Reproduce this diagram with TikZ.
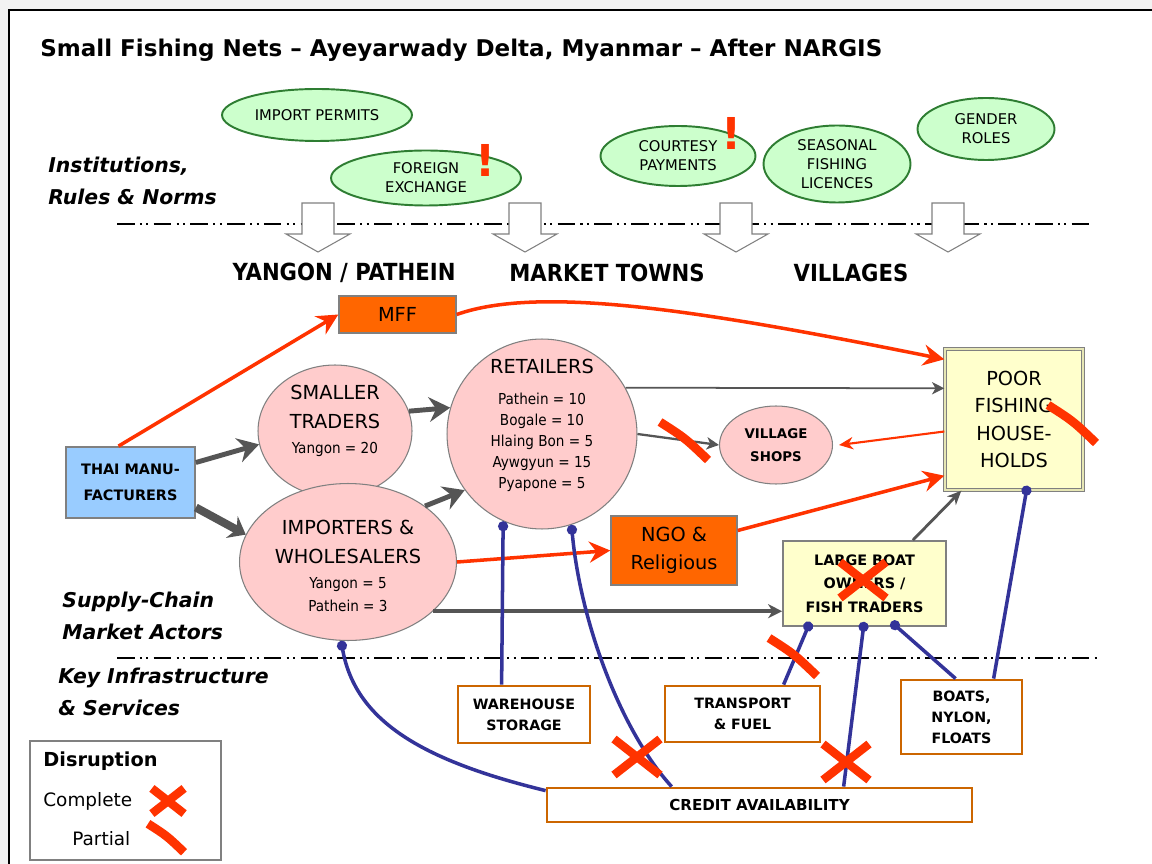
\documentclass[tikz,border=0pt]{standalone}
\usepackage{fontspec}
\setmainfont{DejaVu Sans}
\newfontfamily\condf{DejaVu Sans Condensed}
\usetikzlibrary{arrows.meta,positioning,calc,shapes.geometric}
\definecolor{instfill}{HTML}{CCFFCC}
\definecolor{instline}{HTML}{2E7D32}
\definecolor{actfill}{HTML}{FFCCCC}
\definecolor{orgfill}{HTML}{FF6600}
\definecolor{mfgfill}{HTML}{99CCFF}
\definecolor{hhfill}{HTML}{FFFFCC}
\definecolor{hhband}{HTML}{E6E6B4}
\definecolor{aidred}{HTML}{FF3300}
\definecolor{infraline}{HTML}{CC6600}
\definecolor{linkblue}{HTML}{333399}
\definecolor{flowgray}{HTML}{555555}
\definecolor{edgegray}{HTML}{808080}
\definecolor{pagegray}{HTML}{F2F2F2}
\tikzset{
  inst/.style={ellipse,draw=instline,fill=instfill,line width=1.1pt,inner sep=0pt,align=center,font=\fontsize{8.4}{10.8}\selectfont},
  actor/.style={ellipse,draw=edgegray,fill=actfill,line width=0.6pt,inner sep=0pt},
  acttl/.style={align=center,font=\fontsize{11}{16.5}\selectfont},
  actnum/.style={align=center,font=\condf\fontsize{8.6}{12}\selectfont},
  orgblk/.style={rectangle,draw=edgegray,fill=orgfill,line width=0.8pt,inner sep=0pt,align=center,font=\fontsize{11}{16}\selectfont},
  mfgblk/.style={rectangle,draw=edgegray,fill=mfgfill,line width=1pt,inner sep=0pt,align=center,font=\bfseries\fontsize{8.2}{14.8}\selectfont},
  hhblk/.style={rectangle,draw=edgegray,fill=hhfill,line width=1pt,inner sep=0pt,align=center},
  infblk/.style={rectangle,draw=infraline,fill=white,line width=1.6pt,inner sep=0pt,align=center,font=\bfseries\fontsize{8.1}{12}\selectfont},
  side/.style={anchor=west,align=left,inner sep=0pt,font=\bfseries\itshape\fontsize{11.6}{18}\selectfont},
  region/.style={font=\condf\bfseries\fontsize{13.4}{15}\selectfont},
  warn/.style={text=aidred,font=\bfseries\fontsize{25}{25}\selectfont,inner sep=0pt},
  sepline/.style={line width=1.1pt,dash pattern=on 10pt off 3pt on 1.2pt off 2.5pt on 1.2pt off 3pt},
  blkarr/.style={draw=edgegray,fill=white,line width=0.6pt},
  flow/.style={draw=flowgray,line width=2.8pt,-{Stealth[length=12pt,width=14pt,inset=4pt]}},
  thinflow/.style={draw=flowgray,line width=1pt,-{Stealth[length=7pt,width=7pt,inset=2pt]}},
  aid/.style={draw=aidred,line width=2pt,-{Stealth[length=12pt,width=12pt,inset=4pt]}},
  link/.style={draw=linkblue,line width=2pt,{Circle[length=5.7pt]}-},
  fullx/.pic={\draw[aidred,line width=4.8pt] (-23,-18) -- (23,18) (-23,18) -- (23,-18);},
  halfx/.pic={\draw[aidred,line width=5pt] (-24,-19) .. controls (1,-3) .. (24,19);}
}
\begin{document}
\begin{tikzpicture}[x=0.02cm,y=-0.02cm]
  \useasboundingbox (0,0) rectangle (1152,864);
  \fill[pagegray] (0,0) rectangle (1152,864);
  \fill[white] (9,10) rectangle (1152,864);
  \draw[line width=1.1pt] (9,864) -- (9,10) -- (1152,10);

  \node[anchor=west,inner sep=0pt,font=\bfseries\fontsize{13.1}{15}\selectfont] (ttl) at (40,50) {Small Fishing Nets – Ayeyarwady Delta, Myanmar – After NARGIS};

  \node[inst,minimum width=3.8cm,minimum height=1.04cm] (imprt) at (317,115) {IMPORT PERMITS};
  \node[inst,minimum width=3.8cm,minimum height=1.1cm] (forex) at (426,178) {FOREIGN\\EXCHANGE};
  \node[inst,minimum width=3.1cm,minimum height=1.2cm] (court) at (678,156) {COURTESY\\PAYMENTS};
  \node[inst,minimum width=2.94cm,minimum height=1.54cm] (lic) at (837,164) {SEASONAL\\FISHING\\LICENCES};
  \node[inst,minimum width=2.74cm,minimum height=1.24cm] (gend) at (986,129) {GENDER\\ROLES};
  \node[warn] (warn1) at (486,160) {!};
  \node[warn] (warn2) at (732,133) {!};

  \node[side] (instlbl) at (48,181) {Institutions,\\Rules \& Norms};
  \node[side] (actlbl) at (62,616) {Supply-Chain\\Market Actors};
  \node[side] (inflbl) at (58,692) {Key Infrastructure\\\& Services};

  \draw[sepline] (117,224) -- (1093,224);
  \draw[sepline] (117,658) -- (1097,658);
  \foreach \ax in {318,525,736,948}
    \draw[blkarr] (\ax-16,203) -- (\ax+16,203) -- (\ax+16,234) -- (\ax+32,234) -- (\ax,252) -- (\ax-32,234) -- (\ax-16,234) -- cycle;

  \node[region] (ygn) at (344,273) {YANGON / PATHEIN};
  \node[region] (mkt) at (607,273) {MARKET TOWNS};
  \node[region] (vlg) at (851,273) {VILLAGES};

  \node[mfgblk,minimum width=2.58cm,minimum height=1.42cm] (thai) at (130.5,482.5) {THAI MANU-\\FACTURERS};
  \node[orgblk,minimum width=2.34cm,minimum height=0.74cm] (mff) at (397.5,314.5) {MFF};
  \node[actor,minimum width=3.08cm,minimum height=2.64cm] (smt) at (335,431) {};
  \node[acttl] (smt-t) at (335,407) {SMALLER\\TRADERS};
  \node[actnum] (smt-n) at (335,449) {Yangon = 20};
  \node[actor,circle,minimum size=3.8cm] (ret) at (542,434) {};
  \node[acttl] (ret-t) at (542,366) {RETAILERS};
  \node[actnum] (ret-n) at (542,442) {Pathein = 10\\Bogale = 10\\Hlaing Bon = 5\\Aywgyun = 15\\Pyapone = 5};
  \node[actor,minimum width=4.34cm,minimum height=3.14cm] (imp) at (348,562) {};
  \node[acttl] (imp-t) at (348,542) {IMPORTERS \&\\WHOLESALERS};
  \node[actnum,font=\condf\fontsize{8.6}{13}\selectfont] (imp-n) at (348,595) {Yangon = 5\\Pathein = 3};
  \node[actor,minimum width=2.26cm,minimum height=1.56cm,align=center,font=\bfseries\fontsize{7.6}{13}\selectfont] (vil) at (776,445) {VILLAGE\\SHOPS};
  \node[orgblk,minimum width=2.52cm,minimum height=1.38cm] (ngo) at (674,550.5) {NGO \&\\Religious};
  \node[hhblk,double=hhband,double distance=1.2pt,line width=0.8pt,minimum width=2.76cm,minimum height=2.82cm,font=\fontsize{11}{15.7}\selectfont] (poor) at (1014,419.5) {POOR\\FISHING\\HOUSE-\\HOLDS};
  \node[hhblk,minimum width=3.26cm,minimum height=1.7cm,font=\bfseries\fontsize{8.2}{13.4}\selectfont] (lbo) at (864.5,583.5) {LARGE BOAT\\OWNERS /\\FISH TRADERS};

  \node[infblk,minimum width=2.64cm,minimum height=1.14cm] (wh) at (524,714.5) {WAREHOUSE\\STORAGE};
  \node[infblk,minimum width=3.1cm,minimum height=1.12cm] (tr) at (742.5,714) {TRANSPORT\\\& FUEL};
  \node[infblk,minimum width=2.42cm,minimum height=1.48cm] (bo) at (961.5,717) {BOATS,\\NYLON,\\FLOATS};
  \node[infblk,minimum width=8.5cm,minimum height=0.68cm,font=\bfseries\fontsize{8.6}{12}\selectfont] (cred) at (759.5,805) {CREDIT AVAILABILITY};

  \draw[aid] ($(thai.north)+(-12,0)$) -- (mff.west);
  \draw[aid] (mff.east) .. controls (540,285) and (700,310) .. ($(poor.north west)+(0,11)$);
  \draw[aid] (imp.east) -- (ngo.west);
  \draw[aid] ($(ngo.east)+(0,-20)$) -- ($(poor.south west)+(0,-15)$);
  \draw[aid,line width=1.2pt,-{Stealth[length=8pt,width=7pt,inset=2.5pt]}] ($(poor.west)+(0,12)$) -- ($(vil.east)+(6,0)$);

  \draw[flow] ($(thai.east)+(0,-20)$) -- (smt.190);
  \draw[flow,line width=4.6pt,-{Stealth[length=9pt,width=14pt,inset=3pt]}] ($(thai.east)+(0,25)$) -- (imp.165);
  \draw[flow] (smt.15) -- (ret.164);
  \draw[flow] (imp.36) -- (ret.216);
  \draw[thinflow] (ret.29) -- ($(poor.north west)+(0,40)$);
  \draw[thinflow,line width=1.3pt] (ret.0) -- (vil.west);
  \draw[flow,line width=2pt,-{Stealth[length=8pt,width=8pt,inset=2.5pt]}] (imp.330) -- (imp.330 -| lbo.west);
  \draw[flow,line width=1.6pt,-{Stealth[length=8pt,width=7pt,inset=2.5pt]}] ($(lbo.north east)+(-34,0)$) -- ($(poor.south west)+(17,0)$);

  \draw[link] (ret.246) -- ($(wh.north west)+(45,0)$);
  \draw[link] (ret.288) .. controls (580,620) and (620,730) .. ($(cred.north west)+(126,0)$);
  \draw[link] (imp.265) .. controls (355,720) and (420,760) .. ($(cred.north west)+(0,4)$);
  \draw[link] ($(lbo.south west)+(28,-5)$) -- ($(tr.north west)+(120,0)$);
  \draw[link] ($(lbo.south west)+(82,-5)$) -- ($(cred.north west)+(298,0)$);
  \draw[link] ($(lbo.south west)+(109,-5)$) -- ($(bo.north west)+(56,0)$);
  \draw[link] ($(poor.south west)+(83,-5)$) -- ($(bo.north west)+(94,0)$);

  \pic at (863,580) {fullx};
  \pic at (637,757) {fullx};
  \pic at (846,762) {fullx};
  \pic at (684,441) {halfx};
  \pic at (1072,424) {halfx};
  \pic at (793,657) {halfx};

  \node[draw=edgegray,line width=0.6pt,minimum width=3.82cm,minimum height=2.38cm,inner sep=0pt] (lgd) at (125.5,800.5) {};
  \node[anchor=west,inner sep=0pt,font=\bfseries\fontsize{11}{13}\selectfont] (lgd-t) at (43,761) {Disruption};
  \node[anchor=west,inner sep=0pt,font=\fontsize{10.5}{13}\selectfont] (lgd-f) at (43,801) {Complete};
  \node[anchor=west,inner sep=0pt,font=\fontsize{10.5}{13}\selectfont] (lgd-p) at (72,839) {Partial};
  \pic[scale=0.7] at (168,801) {fullx};
  \pic[scale=0.75] at (166,838) {halfx};
\end{tikzpicture}
\end{document}
